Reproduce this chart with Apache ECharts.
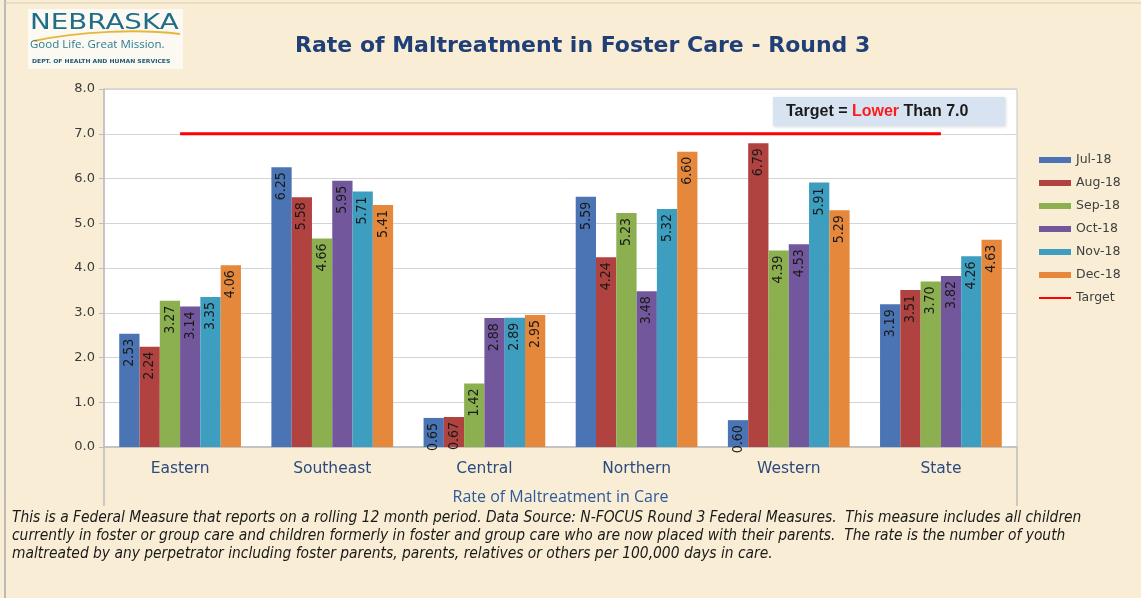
<!DOCTYPE html>
<html>
<head>
<meta charset="utf-8">
<script src="https://cdn.jsdelivr.net/npm/echarts@6/dist/echarts.min.js"></script>
<style>
  html, body { margin: 0; padding: 0; background: #f9eed5; }
  #chart { width: 1141px; height: 598px; }
</style>
</head>
<body>
<div id="chart"></div>
<script>
// regions on the x axis
const regions = ['Eastern', 'Southeast', 'Central', 'Northern', 'Western', 'State'];

// rate per month
const jul18 = [2.53, 6.25, 0.65, 5.59, 0.60, 3.19];
const aug18 = [2.24, 5.58, 0.67, 4.24, 6.79, 3.51];
const sep18 = [3.27, 4.66, 1.42, 5.23, 4.39, 3.70];
const oct18 = [3.14, 5.95, 2.88, 3.48, 4.53, 3.82];
const nov18 = [3.35, 5.71, 2.89, 5.32, 5.91, 4.26];
const dec18 = [4.06, 5.41, 2.95, 6.60, 5.29, 4.63];
const target = [7.0, 7.0, 7.0, 7.0, 7.0, 7.0];

const monthNames = ['Jul-18', 'Aug-18', 'Sep-18', 'Oct-18', 'Nov-18', 'Dec-18'];
const monthColors = ['#4a74b3', '#b0423f', '#8cb04f', '#72579c', '#3d9ec0', '#e5883c'];

const footnote = [
    'This is a Federal Measure that reports on a rolling 12 month period. Data Source: N-FOCUS Round 3 Federal Measures.  This measure includes all children',
    'currently in foster or group care and children formerly in foster and group care who are now placed with their parents.  The rate is the number of youth',
    'maltreated by any perpetrator including foster parents, parents, relatives or others per 100,000 days in care.'
];

const chart = echarts.init(document.getElementById('chart'));

function barSeries(name, data, color) {
    return {
        name: name,
        type: 'bar',
        data: data,
        barGap: '0%',
        barCategoryGap: '20%',
        itemStyle: { color: color },
        label: {
            show: true,
            position: 'insideTop',
            distance: 5,
            rotate: 90,
            align: 'right',
            verticalAlign: 'middle',
            color: '#1a1a1a',
            fontSize: 14,
            fontFamily: '"Liberation Sans Narrow", "DejaVu Sans Condensed", sans-serif',
            formatter: function (p) { return p.value.toFixed(2); }
        }
    };
}

const allMonths = [jul18, aug18, sep18, oct18, nov18, dec18];
const series = allMonths.map(function (d, i) { return barSeries(monthNames[i], d, monthColors[i]); });
series.push({
    name: 'Target',
    type: 'line',
    data: target,
    symbol: 'none',
    z: 5,
    lineStyle: { color: '#ff0000', width: 3 },
    itemStyle: { color: '#ff0000' }
});

const option = {
    backgroundColor: '#f9eed5',
    animation: false,
    title: {
        text: 'Rate of Maltreatment in Foster Care - Round 3',
        left: 290,
        top: 30,
        textStyle: {
            color: '#213f77',
            fontSize: 22,
            fontWeight: 'bold',
            fontFamily: '"DejaVu Sans", sans-serif'
        }
    },
    legend: {
        orient: 'vertical',
        left: 1034,
        top: 148,
        itemWidth: 32,
        itemHeight: 6,
        itemGap: 9,
        textStyle: { color: '#404040', fontSize: 12.5, lineHeight: 14, fontFamily: '"DejaVu Sans", sans-serif' },
        data: monthNames.map(function (n) { return { name: n, icon: 'rect' }; })
            .concat([{ name: 'Target', icon: 'path://M0,0H32V2H0Z' }])
    },
    grid: {
        left: 104,
        right: 124,
        top: 89,
        bottom: 151,
        show: true,
        backgroundColor: '#ffffff',
        borderColor: '#c4c4c4',
        borderWidth: 1
    },
    xAxis: {
        type: 'category',
        data: regions,
        name: 'Rate of Maltreatment in Care',
        nameLocation: 'middle',
        nameGap: 42,
        nameTextStyle: { color: '#2e5a9a', fontSize: 16, fontFamily: '"Open Sans", sans-serif' },
        axisLine: { lineStyle: { color: '#bdbdbd', width: 1.5 } },
        axisTick: { length: 32, lineStyle: { color: '#bdbdbd', width: 1.5 } },
        axisLabel: { margin: 14, color: '#2b4a7e', fontSize: 15.5, fontFamily: '"DejaVu Sans", sans-serif' }
    },
    yAxis: {
        type: 'value',
        min: 0,
        max: 8,
        interval: 1,
        axisLine: { show: true, lineStyle: { color: '#bdbdbd', width: 1.5 } },
        axisTick: { show: true, length: 5, lineStyle: { color: '#bdbdbd' } },
        splitLine: { lineStyle: { color: '#d4d4d4' } },
        axisLabel: {
            margin: 9,
            color: '#3a3a3a',
            fontSize: 13,
            fontFamily: '"DejaVu Sans", sans-serif',
            formatter: function (v) { return v.toFixed(1); }
        }
    },
    graphic: [
        // page frame
        { type: 'line', shape: { x1: 5, y1: 0, x2: 5, y2: 598 }, style: { stroke: '#a8a8a8', lineWidth: 1.5 } },
        { type: 'line', shape: { x1: 5, y1: 3, x2: 1141, y2: 3 }, style: { stroke: '#d6cbb2', lineWidth: 1 } },
        // outer axis edges below the plot
        { type: 'line', shape: { x1: 104, y1: 447, x2: 104, y2: 506 }, style: { stroke: '#bdbdbd', lineWidth: 1.5 } },
        { type: 'line', shape: { x1: 1017, y1: 447, x2: 1017, y2: 506 }, style: { stroke: '#bdbdbd', lineWidth: 1.5 } },
        // logo
        { type: 'rect', shape: { x: 28, y: 9, width: 155, height: 60 }, style: { fill: '#fbf9f2' } },
        {
            type: 'text', x: 30, y: 12, scaleX: 1.26,
            style: { text: 'NEBRASKA', fill: '#1f6d88', font: '22px "DejaVu Sans", sans-serif' }
        },
        {
            type: 'bezierCurve',
            shape: { x1: 34, y1: 41, cpx1: 80, cpy1: 31, cpx2: 140, cpy2: 29, x2: 180, y2: 34 },
            style: { stroke: '#e7b63c', lineWidth: 2, fill: null }
        },
        {
            type: 'text', x: 30, y: 39,
            style: { text: 'Good Life. Great Mission.', fill: '#2c7d93', font: '11.5px "Open Sans", sans-serif' }
        },
        {
            type: 'text', x: 32, y: 59, scaleX: 1.1,
            style: { text: 'DEPT. OF HEALTH AND HUMAN SERVICES', fill: '#1f5a73', font: 'bold 5.5px "DejaVu Sans", sans-serif' }
        },
        // target note
        {
            type: 'rect', z: 50,
            shape: { x: 773, y: 97, width: 232, height: 29 },
            style: { fill: '#d8e3f2', shadowBlur: 3, shadowColor: 'rgba(0,0,0,0.15)', shadowOffsetX: 1, shadowOffsetY: 1 }
        },
        {
            type: 'text', z: 51, x: 786, y: 111.5,
            style: {
                text: '{b|Target = }{r|Lower}{b| Than 7.0}',
                verticalAlign: 'middle',
                rich: {
                    b: { fill: '#1a1a1a', fontWeight: 'bold', fontSize: 16, fontFamily: '"Liberation Sans", sans-serif' },
                    r: { fill: '#ff1a1a', fontWeight: 'bold', fontSize: 16, fontFamily: '"Liberation Sans", sans-serif' }
                }
            }
        },
        // footnote
        {
            type: 'text', x: 12, y: 509,
            style: {
                text: footnote.join('\n'),
                fill: '#1a1a1a',
                font: 'italic 15.4px "Liberation Sans Narrow", "DejaVu Sans Condensed", sans-serif',
                lineHeight: 18
            }
        }
    ],
    series: series
};

chart.setOption(option);
</script>
</body>
</html>
